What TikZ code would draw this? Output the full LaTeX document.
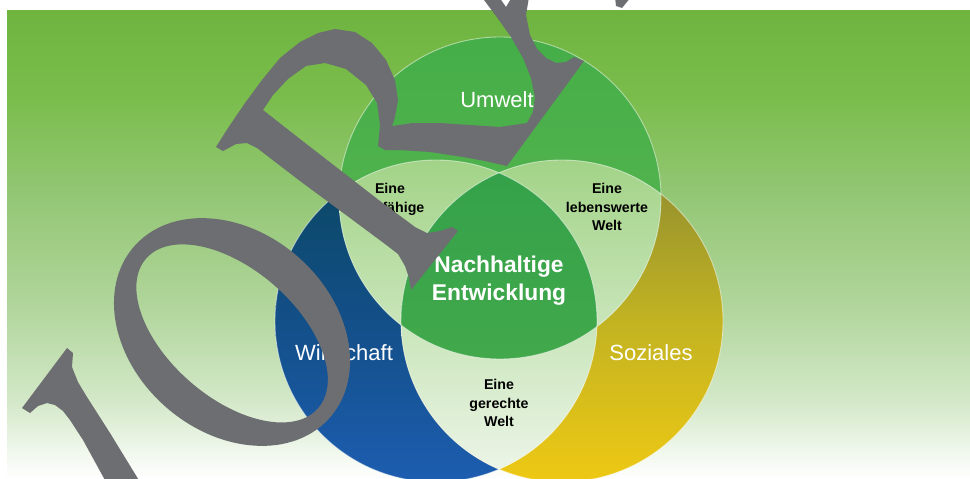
\documentclass[tikz,border=0pt]{standalone}
\usepackage{fontspec}
\setmainfont{Liberation Sans}
\definecolor{bgA}{HTML}{6EB43F}
\definecolor{bgB}{HTML}{7BBD4D}
\definecolor{bgC}{HTML}{92C673}
\definecolor{bgD}{HTML}{B2D69D}
\definecolor{bgE}{HTML}{D3E8C8}
\definecolor{bgF}{HTML}{EFF7EB}
\definecolor{blueT}{HTML}{0A4760}
\definecolor{blueM}{HTML}{134F88}
\definecolor{blueB}{HTML}{1D5DB0}
\definecolor{yelT}{HTML}{8E8C30}
\definecolor{yelM}{HTML}{C2B322}
\definecolor{yelB}{HTML}{EEC914}
\definecolor{grnT}{HTML}{45AE48}
\definecolor{grnB}{HTML}{5CB752}
\definecolor{lensT}{HTML}{A2D387}
\definecolor{lensB}{HTML}{EEF6EA}
\definecolor{cenT}{HTML}{34A14A}
\definecolor{cenB}{HTML}{42A94B}
\definecolor{wmark}{HTML}{6D6E71}
\pgfdeclareverticalshading{bgshade}{100bp}{color(0bp)=(white); color(25bp)=(white); color(28.1bp)=(bgF); color(33.4bp)=(bgE); color(43bp)=(bgD); color(55.8bp)=(bgC); color(65.4bp)=(bgB); color(75bp)=(bgA); color(100bp)=(bgA)}
\tikzset{
  rim/.style={draw=white, draw opacity=0.5, line width=0.9pt},
  bigword/.style={text=white, inner sep=0pt, font=\fontsize{22}{26}\selectfont},
  coreword/.style={text=white, inner sep=0pt, align=center, font=\bfseries\fontsize{22.8}{28}\selectfont},
  smallword/.style={text=black, inner sep=0pt, align=center, font=\bfseries\fontsize{14.2}{18.2}\selectfont},
  wm/.style={fill=wmark}
}
\begin{document}
\begin{tikzpicture}[x=1pt,y=-1pt]
\useasboundingbox (0,0) rectangle (970,479);
\fill[white] (0,0) rectangle (970,479);
\shade[shading=bgshade] (7,10) rectangle (970,479);

\coordinate (cU) at (500,198);
\coordinate (cW) at (436,321);
\coordinate (cS) at (562,321);

% outer parts of the three circles
\shade[top color=blueT, bottom color=blueB, middle color=blueM] (cW) circle (161);
\shade[top color=yelT, bottom color=yelB, middle color=yelM] (cS) circle (161);
\shade[top color=grnT, bottom color=grnB] (cU) circle (161);

% pairwise lenses
\begin{scope}
  \clip (cU) circle (161);
  \clip (cW) circle (161);
  \shade[top color=lensT, bottom color=lensB] (270,160) rectangle (730,480);
\end{scope}
\begin{scope}
  \clip (cU) circle (161);
  \clip (cS) circle (161);
  \shade[top color=lensT, bottom color=lensB] (270,160) rectangle (730,480);
\end{scope}
\begin{scope}
  \clip (cW) circle (161);
  \clip (cS) circle (161);
  \shade[top color=lensT, bottom color=lensB] (270,160) rectangle (730,480);
\end{scope}
% centre
\begin{scope}
  \clip (cU) circle (161);
  \clip (cW) circle (161);
  \clip (cS) circle (161);
  \shade[top color=cenT, bottom color=cenB] (390,168) rectangle (610,364);
\end{scope}

\draw[rim] (cU) circle (161);
\draw[rim] (cW) circle (161);
\draw[rim] (cS) circle (161);

% labels
\node[bigword] (umwelt) at (497,100) {Umwelt};
\node[bigword] (wirtschaft) at (344,353) {Wirtschaft};
\node[bigword] (soziales) at (651,353) {Soziales};
\node[coreword] (kern) at (499,281) {Nachhaltige\\Entwicklung};
\node[smallword] (tragf) at (390,207) {Eine\\tragfähige\\Welt};
\node[smallword] (lebensw) at (607,207) {Eine\\lebenswerte\\Welt};
\node[smallword] (gerecht) at (499,403) {Eine\\gerechte\\Welt};

% watermark
\path[wm, even odd rule, shift={(232,332)}, rotate=-41] (0,0) ellipse (130 and 100) (1,1) ellipse (114 and 64);
\path[wm] (216,147) -- (228,128) -- (245,103) -- (262,80) -- (280,58) -- (300,42) -- (318,33) -- (335,29) -- (355,32) -- (372,43) -- (386,60) -- (395,80) -- (398,100) -- (395,117) -- (392,126) -- (413,123) -- (440,123) -- (470,125) -- (500,127) -- (527,123) -- (533,112) -- (535,97) -- (531,78) -- (523,58) -- (511,37) -- (496,16) -- (484,0) -- (480,-3) -- (499,-3) -- (506,7) -- (512,-3) -- (529,-3) -- (526,15) -- (530,35) -- (537,49) -- (546,58) -- (556,63) -- (566,62) -- (574,57) -- (584,61) -- (507,166) -- (485,161) -- (463,157) -- (430,152) -- (400,150) -- (385,150) -- (378,146) -- (380,125) -- (377,103) -- (366,85) -- (346,69) -- (325,63) -- (306,66) -- (288,79) -- (273,95) -- (263,110) -- (300,139) -- (340,170) -- (380,201) -- (415,227) -- (427,233) -- (440,231) -- (452,227) -- (458,231) -- (411,290) -- (409,278) -- (405,266) -- (398,254) -- (385,244) -- (350,218) -- (300,181) -- (270,158) -- (257,148) -- (247,143) -- (236,144) -- (223,151) -- cycle;
\path[wm] (22,408) -- (67,348) -- (73,353) -- (72,367) -- (78,382) -- (87,397) -- (110,433) -- (140,482) -- (106,482) -- (83,440) -- (70,420) -- (63,411) -- (55,405) -- (47,403) -- (38,406) -- (30,413) -- cycle;
\path[wm] (615,-3) -- (631,-3) -- (622,8) -- (616,6) -- cycle;
\end{tikzpicture}
\end{document}
